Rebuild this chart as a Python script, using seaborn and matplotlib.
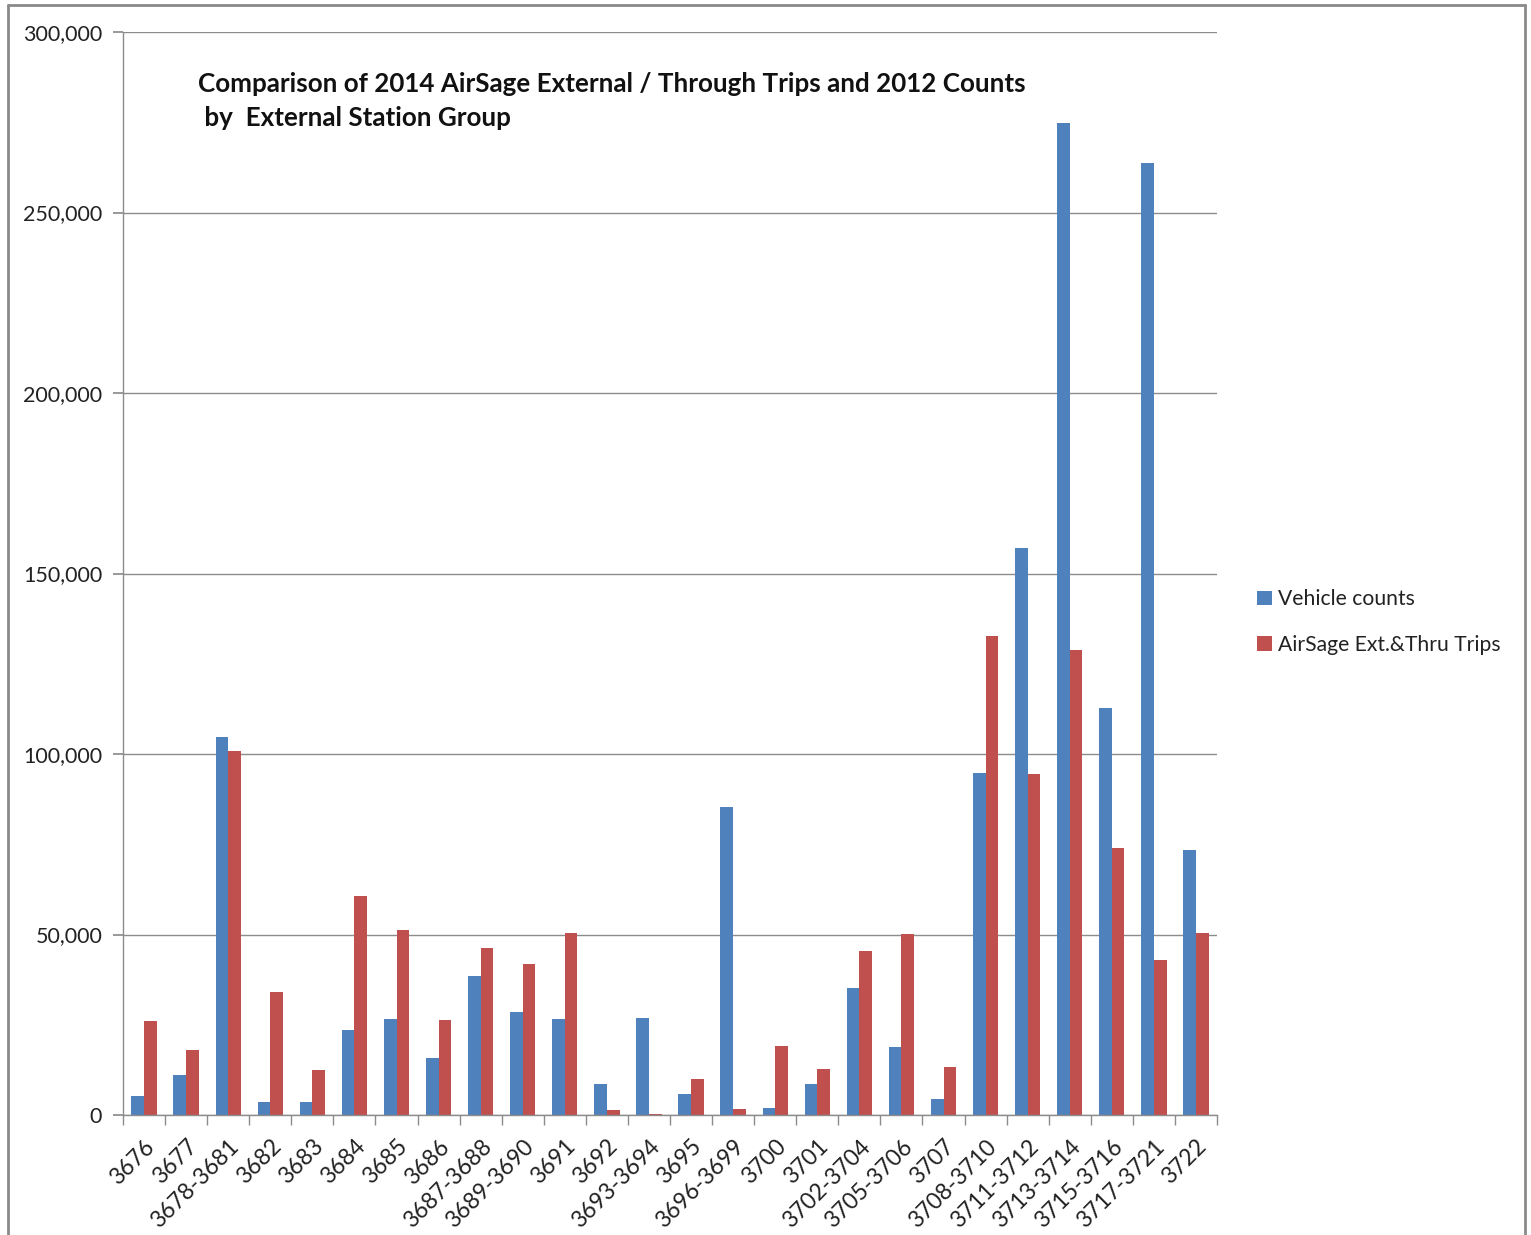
import matplotlib
matplotlib.use("Agg")
import matplotlib.pyplot as plt
import seaborn as sns
import pandas as pd
from matplotlib.lines import Line2D
from matplotlib.ticker import FuncFormatter, FixedLocator

categories = ["3676", "3677", "3678-3681", "3682", "3683", "3684", "3685", "3686",
              "3687-3688", "3689-3690", "3691", "3692", "3693-3694", "3695",
              "3696-3699", "3700", "3701", "3702-3704", "3705-3706", "3707",
              "3708-3710", "3711-3712", "3713-3714", "3715-3716", "3717-3721", "3722"]
vehicle_counts = [5200, 11000, 104700, 3600, 3600, 23500, 26600, 15800,
                  38500, 28500, 26600, 8600, 26900, 5800,
                  85300, 1900, 8600, 35200, 18800, 4400,
                  94700, 157000, 274700, 112700, 263700, 73400]
airsage_trips = [26000, 18000, 100800, 34000, 12500, 60700, 51200, 26300,
                 46300, 41800, 50400, 1400, 300, 10000,
                 1700, 19100, 12700, 45400, 50100, 13300,
                 132700, 94500, 128800, 74000, 42900, 50400]
series_names = ["Vehicle counts", "AirSage Ext.&Thru Trips"]
title_text = "Comparison of 2014 AirSage External / Through Trips and 2012 Counts\n by  External Station Group"

df = pd.DataFrame({
    "group": categories * 2,
    "value": vehicle_counts + airsage_trips,
    "series": [series_names[0]] * len(categories) + [series_names[1]] * len(categories),
})

sns.set_theme(style="white")
plt.rcParams['font.family'] = ['Lato', 'DejaVu Sans']

fig = plt.figure(figsize=(15.31, 12.35), dpi=100)
ax = fig.add_axes([123 / 1531, 1 - 1115 / 1235, (1217 - 123) / 1531, (1115 - 32) / 1235])

sns.barplot(data=df, x="group", y="value", hue="series", order=categories,
            hue_order=series_names, palette=["#4F81BD", "#C0504D"],
            width=0.6, gap=0, saturation=1, ax=ax, linewidth=0, errorbar=None)

ax.set_ylim(0, 300000)
ax.set_xlim(-0.5, len(categories) - 0.5)
ax.set_yticks(range(0, 300001, 50000))
ax.yaxis.set_major_formatter(FuncFormatter(lambda v, p: f"{int(v):,}"))
ax.grid(axis="y", color="#8c8c8c", linewidth=1)
ax.set_axisbelow(True)
ax.set_xlabel("")
ax.set_ylabel("")

for s in ["top", "right"]:
    ax.spines[s].set_visible(False)
for s in ["left", "bottom"]:
    ax.spines[s].set_color("#8c8c8c")
    ax.spines[s].set_linewidth(1)

ax.tick_params(axis="y", which="major", length=7, color="#8c8c8c", direction="out",
               labelsize=15.5, labelcolor="#222222", pad=8, left=True)
ax.set_xticks(range(len(categories)))
ax.set_xticklabels(categories, rotation=45, ha="right", rotation_mode="anchor",
                   fontsize=16.5, color="#222222")
ax.tick_params(axis="x", which="major", length=0, pad=15)
ax.xaxis.set_minor_locator(FixedLocator([i - 0.5 for i in range(len(categories) + 1)]))
ax.tick_params(axis="x", which="minor", length=7, color="#8c8c8c", direction="out", bottom=True)

fig.text(198 / 1531, 1 - 72 / 1235, title_text,
         fontsize=18.7, fontweight="bold", color="#111111", ha="left", va="top",
         linespacing=1.52)

handles, labels = ax.get_legend_handles_labels()
leg = ax.legend(handles, labels, loc="center left", bbox_to_anchor=(1238 / 1531, 1 - 622 / 1235),
                bbox_transform=fig.transFigure, frameon=False, fontsize=15.2,
                handlelength=0.7, handleheight=0.7, handletextpad=0.3, labelspacing=1.2)
for txt in leg.get_texts():
    txt.set_color("#222222")

# outer frame
fc = "#8a8a8a"
fig.add_artist(Line2D([8 / 1531, 8 / 1531], [0, 1 - 5 / 1235], transform=fig.transFigure, color=fc, lw=2))
fig.add_artist(Line2D([8 / 1531, 1525 / 1531], [1 - 5 / 1235, 1 - 5 / 1235], transform=fig.transFigure, color=fc, lw=2))
fig.add_artist(Line2D([1525 / 1531, 1525 / 1531], [0, 1 - 5 / 1235], transform=fig.transFigure, color=fc, lw=2))

fig.savefig("out.png", dpi=100)
